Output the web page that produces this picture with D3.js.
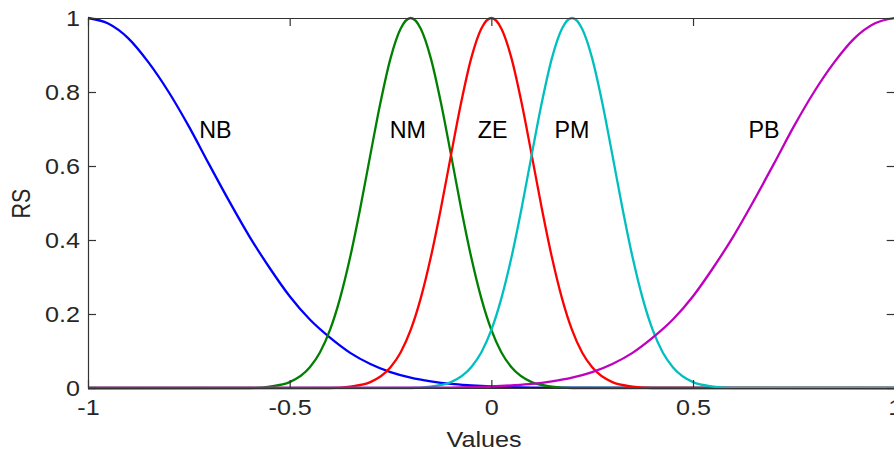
<!DOCTYPE html>
<html>
<head>
<meta charset="utf-8">
<script src="https://cdn.jsdelivr.net/npm/d3@7"></script>
<style>
  html, body { margin: 0; padding: 0; background: #fff; }
  svg { display: block; }
  text { font-family: "Liberation Sans", Arial, Helvetica, sans-serif; }
</style>
</head>
<body>
<svg id="chart" width="894" height="450"></svg>
<script>
// Membership functions of the fuzzy sets NB, NM, ZE, PM, PB
const setNames = ["NB", "NM", "ZE", "PM", "PB"];
const setColors = ["#0000ff", "#008000", "#ff0000", "#00bfbf", "#bf00bf"];

const nbX = [-1, -0.95, -0.9, -0.85, -0.8, -0.75, -0.7, -0.65, -0.6, -0.55, -0.5, -0.45, -0.4, -0.35, -0.3, -0.25, -0.2, -0.15, -0.1, -0.05, 0, 0.1, 1];
const nbY = [1, 0.985, 0.945, 0.88, 0.8, 0.707, 0.605, 0.505, 0.41, 0.325, 0.248, 0.185, 0.136, 0.095, 0.065, 0.043, 0.028, 0.018, 0.011, 0.007, 0.004, 0.001, 0];

const nmX = [-1, -0.6, -0.55, -0.5, -0.45, -0.425, -0.4, -0.375, -0.35, -0.325, -0.3, -0.275, -0.25, -0.225, -0.2, -0.175, -0.15, -0.125, -0.1, -0.075, -0.05, -0.025, 0, 0.025, 0.05, 0.1, 0.15, 0.2, 1];
const nmY = [0, 0, 0.004, 0.016, 0.056, 0.096, 0.157, 0.243, 0.354, 0.486, 0.63, 0.771, 0.891, 0.971, 1, 0.971, 0.891, 0.771, 0.63, 0.486, 0.354, 0.243, 0.157, 0.096, 0.056, 0.016, 0.004, 0, 0];

const zeX = [-1, -0.4, -0.35, -0.3, -0.25, -0.225, -0.2, -0.175, -0.15, -0.125, -0.1, -0.075, -0.05, -0.025, 0, 0.025, 0.05, 0.075, 0.1, 0.125, 0.15, 0.175, 0.2, 0.225, 0.25, 0.3, 0.35, 0.4, 1];
const zeY = [0, 0, 0.004, 0.016, 0.056, 0.096, 0.157, 0.243, 0.354, 0.486, 0.63, 0.771, 0.891, 0.971, 1, 0.971, 0.891, 0.771, 0.63, 0.486, 0.354, 0.243, 0.157, 0.096, 0.056, 0.016, 0.004, 0, 0];

const pmX = [-1, -0.2, -0.15, -0.1, -0.05, -0.025, 0, 0.025, 0.05, 0.075, 0.1, 0.125, 0.15, 0.175, 0.2, 0.225, 0.25, 0.275, 0.3, 0.325, 0.35, 0.375, 0.4, 0.425, 0.45, 0.5, 0.55, 0.6, 1];
const pmY = [0, 0, 0.004, 0.016, 0.056, 0.096, 0.157, 0.243, 0.354, 0.486, 0.63, 0.771, 0.891, 0.971, 1, 0.971, 0.891, 0.771, 0.63, 0.486, 0.354, 0.243, 0.157, 0.096, 0.056, 0.016, 0.004, 0, 0];

const pbX = [-1, -0.1, 0, 0.05, 0.1, 0.15, 0.2, 0.25, 0.3, 0.35, 0.4, 0.45, 0.5, 0.55, 0.6, 0.65, 0.7, 0.75, 0.8, 0.85, 0.9, 0.95, 1];
const pbY = [0, 0.001, 0.004, 0.007, 0.011, 0.018, 0.028, 0.043, 0.065, 0.095, 0.136, 0.185, 0.248, 0.325, 0.41, 0.505, 0.605, 0.707, 0.8, 0.88, 0.945, 0.985, 1];

// Where each set's name is written (data coordinates)
const labelX = [-0.684, -0.207, 0.003, 0.2, 0.676];
const labelY = [0.677, 0.677, 0.677, 0.677, 0.677];

const xTicks = [-1, -0.5, 0, 0.5, 1];
const yTicks = [0, 0.2, 0.4, 0.6, 0.8, 1];
const xTitle = "Values";
const yTitle = "RS";

const seriesX = [nbX, nmX, zeX, pmX, pbX];
const seriesY = [nbY, nmY, zeY, pmY, pbY];

// ---- layout ----
const svg = d3.select("#chart");
const plotLeft = 88, plotRight = 894.7, plotTop = 18, plotBottom = 388;
const axisColor = "#333333";
const tickFont = 21.5, stretch = 1.17;

const x = d3.scaleLinear().domain([-1, 1]).range([plotLeft, plotRight]);
const y = d3.scaleLinear().domain([0, 1]).range([plotBottom, plotTop]);

// ---- curves ----
const line = d3.line()
  .x(d => x(d[0]))
  .y(d => y(d[1]))
  .curve(d3.curveMonotoneX);

const curves = svg.append("g").attr("fill", "none");
setNames.forEach((name, i) => {
  const pts = d3.zip(seriesX[i], seriesY[i]);
  curves.append("path")
    .datum(pts)
    .attr("d", line)
    .attr("stroke", setColors[i])
    .attr("stroke-width", 2.3)
    .attr("stroke-linejoin", "round");
});

// ---- axes (ticks point into the plot) ----
// plain hyphen-minus for negative tick labels
const fmt = d => String(d);

const gx = svg.append("g")
  .attr("transform", `translate(0,${plotBottom})`)
  .style("color", axisColor)
  .call(d3.axisBottom(x).tickValues(xTicks).tickFormat(fmt)
    .tickSizeInner(-8).tickSizeOuter(0).tickPadding(12));

const gxTop = svg.append("g")
  .attr("transform", `translate(0,${plotTop})`)
  .style("color", axisColor)
  .call(d3.axisTop(x).tickValues(xTicks).tickFormat("")
    .tickSizeInner(-8).tickSizeOuter(0));

const gy = svg.append("g")
  .attr("transform", `translate(${plotLeft},0)`)
  .style("color", axisColor)
  .call(d3.axisLeft(y).tickValues(yTicks).tickFormat(fmt)
    .tickSizeInner(-8).tickSizeOuter(0).tickPadding(8 / stretch));

const gyRight = svg.append("g")
  .attr("transform", `translate(${plotRight},0)`)
  .style("color", axisColor)
  .call(d3.axisRight(y).tickValues(yTicks).tickFormat("")
    .tickSizeInner(-8).tickSizeOuter(0));

[gx, gxTop, gy, gyRight].forEach(g => {
  g.select(".domain").attr("stroke-width", 1.2);
  g.selectAll(".tick line").attr("stroke-width", 1.2);
});

[gx, gy].forEach(g => {
  g.selectAll(".tick text")
    .attr("font-size", tickFont)
    .attr("fill", "#262626")
    .attr("transform", `scale(${stretch},1)`);
});
gy.selectAll(".tick text").attr("dy", "0.35em");

// ---- axis titles ----
svg.append("text")
  .attr("transform", `translate(484,446.5) scale(${stretch},1)`)
  .attr("text-anchor", "middle")
  .attr("font-size", tickFont)
  .attr("fill", "#262626")
  .text(xTitle);

svg.append("text")
  .attr("transform", `translate(30,203.5) scale(${stretch},1) rotate(-90)`)
  .attr("text-anchor", "middle")
  .attr("font-size", tickFont)
  .attr("fill", "#262626")
  .text(yTitle);

// ---- set names ----
svg.append("g")
  .selectAll("text")
  .data(setNames)
  .join("text")
  .attr("x", (d, i) => x(labelX[i]))
  .attr("y", (d, i) => y(labelY[i]))
  .attr("text-anchor", "middle")
  .attr("font-size", 23.3)
  .attr("fill", "#000")
  .text(d => d);
</script>
</body>
</html>
